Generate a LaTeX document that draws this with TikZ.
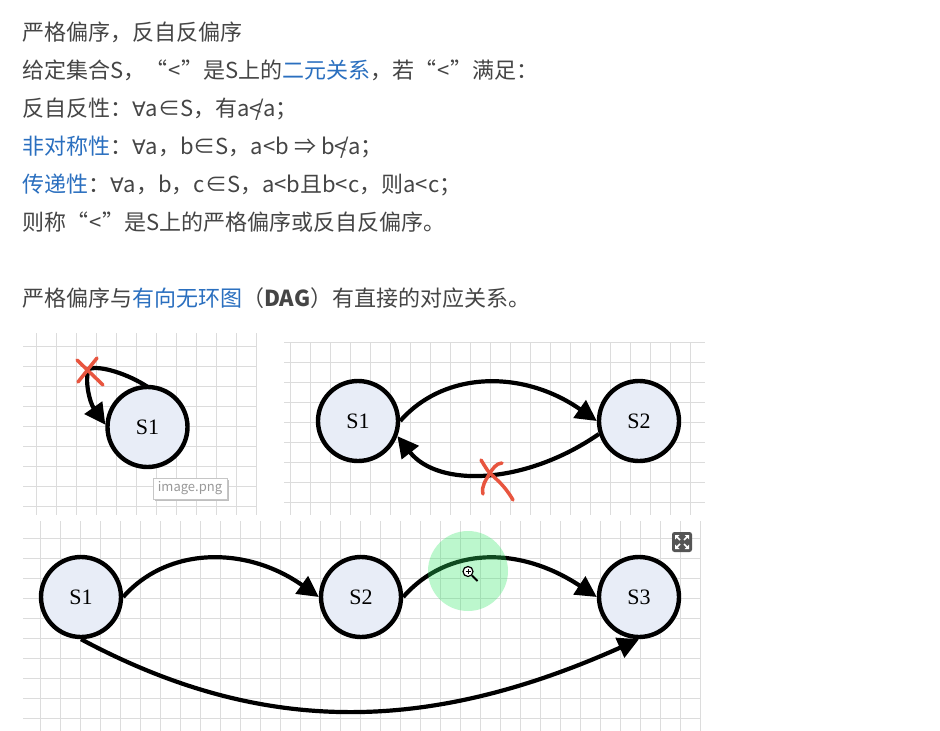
\documentclass[tikz,border=0pt]{standalone}
\usepackage{fontspec}
\usetikzlibrary{arrows.meta}
\newfontfamily\cjk{Noto Sans CJK SC}
\newfontfamily\lbl{Liberation Serif}
\newfontfamily\symf{DejaVu Sans}
\definecolor{txt}{HTML}{454545}
\definecolor{lnk}{HTML}{2A6FBF}
\definecolor{gridc}{HTML}{DCDCDC}
\definecolor{nodefill}{HTML}{E8EDF7}
\definecolor{redx}{HTML}{E8553F}
\newcommand{\lk}[1]{\textcolor{lnk}{#1}}
\newcommand{\fa}{{\symf\fontsize{20pt}{24pt}\selectfont ∀}}
\newcommand{\nl}{<\kern-0.3em/}
\newcommand{\qlt}{“\kern1pt<\kern1pt”}
\tikzset{
  line/.style={anchor=base west,inner sep=0pt,text=txt,font=\cjk\fontsize{22pt}{26pt}\selectfont},
  grd/.style={draw=gridc,line width=1pt},
  state/.style={circle,draw=black,line width=4.4pt,fill=nodefill,minimum size=80pt,inner sep=0pt,font=\lbl\fontsize{22pt}{24pt}\selectfont},
  edge/.style={draw=black,line width=4.2pt,-{Triangle[length=21pt,width=21pt]}},
  cross/.style={draw=redx,line width=3.5pt,line cap=round},
}
\begin{document}
\begin{tikzpicture}[x=1pt,y=-1pt]
\useasboundingbox (0,0) rectangle (940,731);
\fill[white] (0,0) rectangle (940,731);
% grids
\foreach \x in {36.5,56.5,...,256.5} \draw[grd] (\x,333) -- (\x,515);
\foreach \y in {346.5,366.5,...,506.5} \draw[grd] (23,\y) -- (257,\y);
\foreach \x in {290.5,310.5,...,690.5} \draw[grd] (\x,342) -- (\x,515);
\foreach \y in {342.5,362.5,...,502.5} \draw[grd] (284,\y) -- (705,\y);
\foreach \x in {40.5,60.5,...,700.5} \draw[grd] (\x,521) -- (\x,731);
\foreach \y in {538.5,558.5,...,718.5} \draw[grd] (23,\y) -- (701,\y);
% text
\node[line] (t1) at (22,40) {严格偏序，反自反偏序};
\node[line] (t2) at (22,78) {给定集合S，\qlt 是S上的\lk{二元关系}，若\qlt 满足：};
\node[line] (t3) at (22,116) {反自反性：\fa a∈S，有a\nl a；};
\node[line] (t4) at (22,154) {\lk{非对称性}：\fa a，b∈S，a<b ⇒ b\nl a；};
\node[line] (t5) at (22,192) {\lk{传递性}：\fa a，b，c∈S，a<b且b<c，则a<c；};
\node[line] (t6) at (22,230) {则称\qlt 是S上的严格偏序或反自反偏序。};
\node[line] (t7) at (22,306) {严格偏序与\lk{有向无环图}（\textbf{DAG}）有直接的对应关系。};
% panel 1
\node[state] (a1) at (147.5,427) {S1};
\draw[edge] ([yshift=-2pt]a1.90) .. controls (128,374) and (100,365) .. (89,369) .. controls (84,380) and (90,403) .. (a1.177);
\draw[cross] (77,360) -- (103,385);
\draw[cross] (97,358) -- (78,382);
\node[draw=gray!45,fill=white,line width=0.8pt,minimum width=74pt,minimum height=21pt,inner sep=0pt,text=gray!80,font=\cjk\fontsize{13pt}{15pt}\selectfont,
  preaction={draw=none,fill=black!25,transform canvas={xshift=2pt,yshift=-2pt}}] (tip) at (190,488.5) {image.png};
% panel 2
\node[state] (b1) at (358,421) {S1};
\node[state] (b2) at (639,421) {S2};
\draw[edge] (b1.0) .. controls (445,370) and (524,370) .. (b2.180);
\draw[edge] (b2.198) .. controls (525,485) and (438,488) .. (b1.-21);
\draw[cross] (481,460) .. controls (486,468) and (488,472) .. (492,475) .. controls (497,480) and (505,486) .. (513,500);
\draw[cross] (502,463) .. controls (496,463) and (492,470) .. (490,473) .. controls (486,480) and (481,486) .. (483,494);
% panel 3
\node[state] (c1) at (81,597) {S1};
\node[state] (c2) at (361,597) {S2};
\node[state] (c3) at (639,597) {S3};
\draw[edge] (c1.0) .. controls (168,546) and (247,546) .. (c2.180);
\draw[edge] (c2.0) .. controls (448,546) and (520,546) .. (c3.180);
\draw[edge] (c1.270) .. controls (260,735) and (425,735) .. (c3.-90);
% overlays
\fill[fill={rgb,255:red,47;green,231;blue,100},opacity=0.32] (468,571) circle (40);
\draw[black,line width=1.2pt,fill=white] (468,571.5) circle (5);
\draw[black,line width=1.8pt] (472,575.5) -- (477.5,581);
\draw[black,line width=1pt] (465.5,571.5) -- (470.5,571.5) (468,569) -- (468,574);
\fill[fill={rgb,255:red,85;green,85;blue,85},rounded corners=2.5pt] (672,532) rectangle (692,552);
\draw[white,line width=1.5pt] (676,536) -- (680,540) (688,536) -- (684,540) (676,548) -- (680,544) (688,548) -- (684,544);
\fill[white] (675,535) -- (679.5,535) -- (675,539.5) -- cycle (689,535) -- (684.5,535) -- (689,539.5) -- cycle (675,549) -- (679.5,549) -- (675,544.5) -- cycle (689,549) -- (684.5,549) -- (689,544.5) -- cycle;
\end{tikzpicture}
\end{document}
